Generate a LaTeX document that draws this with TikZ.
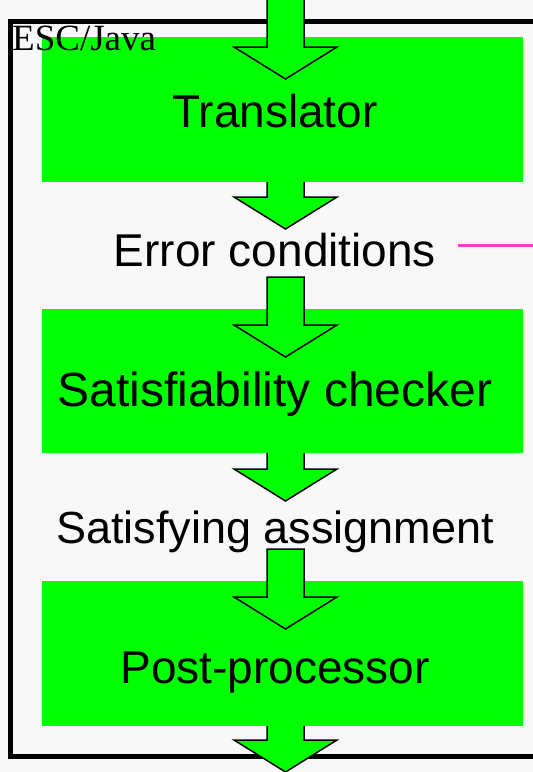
\documentclass[tikz,border=0pt]{standalone}
\usepackage{fontspec}
\setmainfont{Liberation Sans}
\newfontfamily\timesf{Liberation Serif}
\definecolor{bg}{HTML}{F8F8F8}
\definecolor{boxgreen}{HTML}{00FF00}
\definecolor{pinkline}{RGB}{255,60,210}
\tikzset{
  gbox/.style={fill=boxgreen, draw=none, inner sep=0pt, minimum width=481pt},
  lbl/.style={inner sep=0pt, anchor=base, font=\fontsize{46}{50}\selectfont},
  arrowstyle/.style={fill=boxgreen, draw=black, line width=1.5pt, line join=miter},
  blockarrow/.pic={\path[arrowstyle] (-18.5,-80) -- (-18.5,-32) -- (-51.5,-32) -- (0,0) -- (51.5,-32) -- (18.5,-32) -- (18.5,-80) -- cycle;},
  frame/.style={draw=black, line width=5.5pt},
  pinkconn/.style={draw=pinkline, line width=3pt}
}
\begin{document}
\begin{tikzpicture}[x=1pt,y=-1pt]
\useasboundingbox (0,0) rectangle (533,772);
\clip (0,0) rectangle (533,772);
\fill[bg] (0,0) rectangle (533,772);
% outer frame
\path[frame] (10.5,21.5) rectangle (570,756.5);
% arrow tips
\coordinate (tip1) at (285.5,79);
\coordinate (tip2) at (285.5,229);
\coordinate (tip3) at (285.5,357);
\coordinate (tip4) at (285.5,501);
\coordinate (tip5) at (285.5,629);
\coordinate (tip6) at (285.5,772);
% arrows leaving the boxes (under the boxes)
\pic at (tip2) {blockarrow};
\pic at (tip4) {blockarrow};
\pic at (tip6) {blockarrow};
% boxes
\node[gbox, minimum height=145pt] (translator) at (282.5,109.5) {};
\node[gbox, minimum height=144pt] (checker) at (282.5,381) {};
\node[gbox, minimum height=145pt] (postproc) at (282.5,653.5) {};
% texts
\node[lbl] (ttrans) at (275,127) {Translator};
\node[lbl] (err) at (275,266) {Error conditions};
\node[lbl, font=\fontsize{48}{52}\selectfont] (tcheck) at (275,406) {Satisfiability checker};
\node[lbl, font=\fontsize{45}{50}\selectfont] (sat) at (275,543) {Satisfying assignment};
\node[lbl] (tpost) at (275,683) {Post-processor};
% arrows entering the boxes (over the boxes)
\pic at (tip1) {blockarrow};
\pic at (tip3) {blockarrow};
\pic at (tip5) {blockarrow};
% label
\node[anchor=base west, inner sep=0pt, font=\timesf\fontsize{37}{41}\selectfont] (esc) at (12,50) {ESC/Java};
% pink connector
\coordinate (p1) at (458,245);
\coordinate (p2) at (545,245);
\path[pinkconn] (p1) -- (p2);
\end{tikzpicture}
\end{document}
